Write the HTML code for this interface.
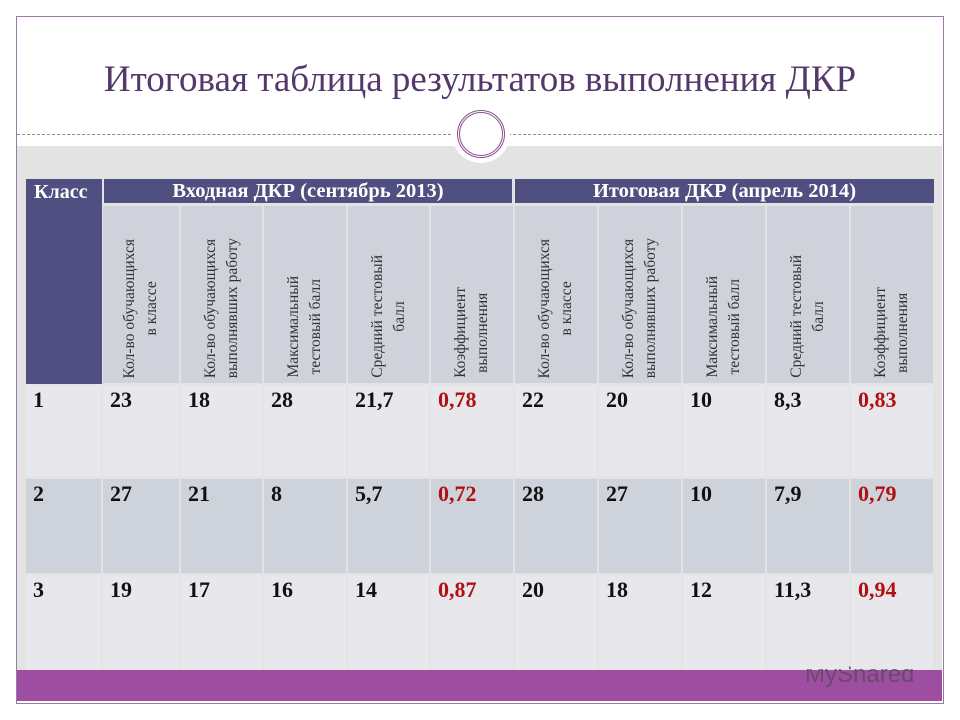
<!DOCTYPE html>
<html><head><meta charset="utf-8">
<style>
body{margin:0;width:960px;height:720px;background:#fff;position:relative;overflow:hidden;font-family:"Liberation Serif",serif;}
.abs{position:absolute;}
.rot{position:absolute;bottom:5px;left:50%;writing-mode:vertical-rl;transform:translateX(-50%) rotate(180deg);text-align:center;font-size:15.5px;line-height:22px;color:#333;white-space:nowrap;}
.num{position:absolute;font-weight:bold;font-size:22px;color:#111;}
.red{color:#b01010;}
</style></head><body>
<div class="abs" style="left:16px;top:16px;width:926px;height:686px;border:1px solid #9a7aa0;"></div>
<div class="abs" style="left:0;width:960px;top:58px;text-align:center;font-size:37px;color:#54386a;">Итоговая таблица результатов выполнения ДКР</div>
<div class="abs" style="left:17px;top:134px;width:925px;border-top:1px dashed #8a8a8a;"></div>
<div class="abs" style="left:17px;top:146px;width:925px;height:524px;background:#e3e3e3;"></div>
<div class="abs" style="left:452px;top:105px;width:58px;height:58px;border-radius:50%;background:#fff;"></div>
<div class="abs" style="left:457px;top:110px;width:42px;height:42px;border-radius:50%;border:3px double #8a4d8f;"></div>
<div class="abs" style="left:17px;top:670px;width:925px;height:31px;background:#9e4ea0;"></div>
<div class="abs" style="left:805px;top:661px;font-family:'Liberation Sans',sans-serif;font-size:24px;color:#5a4a60;opacity:.8;">MyShared</div>
<div id="tbl"></div>
<script>
const classes=["1","2","3"];
const inCount=[23,27,19];
const inDone=[18,21,17];
const inMax=[28,8,16];
const inAvg=["21,7","5,7","14"];
const inCoef=["0,78","0,72","0,87"];
const outCount=[22,28,20];
const outDone=[20,27,18];
const outMax=[10,10,12];
const outAvg=["8,3","7,9","11,3"];
const outCoef=["0,83","0,79","0,94"];
const subHeaders=[["Кол-во обучающихся","в классе"],["Кол-во обучающихся","выполнявших работу"],["Максимальный","тестовый балл"],["Средний тестовый","балл"],["Коэффициент","выполнения"]];
const colX=[26,102,180,263,347,430,514,598,682,766,850,934];
const rowY=[384,478,574,670];
const t=document.getElementById('tbl');
function box(x,y,w,h,bg,name){const d=document.createElement('div');d.className='abs';d.style.cssText=`left:${x}px;top:${y}px;width:${w}px;height:${h}px;background:${bg};`;


t.appendChild(d);return d;}
let k=box(26,179,76,205,'#4f5081','class-header');
k.innerHTML='<div style="color:#fff;font-weight:bold;font-size:20px;padding:2px 0 0 8px">Класс</div>';
let g1=box(104,179,408,24,'#4f5081','input-dkr-header');
g1.innerHTML='<div style="color:#fff;font-weight:bold;font-size:20.5px;text-align:center;padding-top:1px">Входная ДКР (сентябрь 2013)</div>';
let g2=box(515,179,419,24,'#4f5081','final-dkr-header');
g2.innerHTML='<div style="color:#fff;font-weight:bold;font-size:20.5px;text-align:center;padding-top:1px">Итоговая ДКР (апрель 2014)</div>';
for(let c=0;c<10;c++){const x=colX[c+1]+1,w=colX[c+2]-colX[c+1]-2;
const h=box(x,206,w,177,'#cfd2da','subheader-cell');
const r=document.createElement('div');r.className='rot';


r.innerHTML=subHeaders[c%5].join('<br>');h.appendChild(r);}
const series=[inCount,inDone,inMax,inAvg,inCoef,outCount,outDone,outMax,outAvg,outCoef];
for(let i=0;i<3;i++){const y=rowY[i]+1,hh=rowY[i+1]-rowY[i]-2;const bg=i==1?'#ced2da':'#e8e8ec';
for(let c=0;c<11;c++){const x=colX[c]+(c?1:0),w=colX[c+1]-colX[c]-(c?2:1);
const cell=box(x,y,w,hh,bg,'data-cell');
const n=document.createElement('div');n.className='num'+((c==5||c==10)?' red':'');


n.style.left='7px';n.style.top='2px';
n.textContent=c==0?classes[i]:series[c-1][i];cell.appendChild(n);}}
</script>
</body></html>
